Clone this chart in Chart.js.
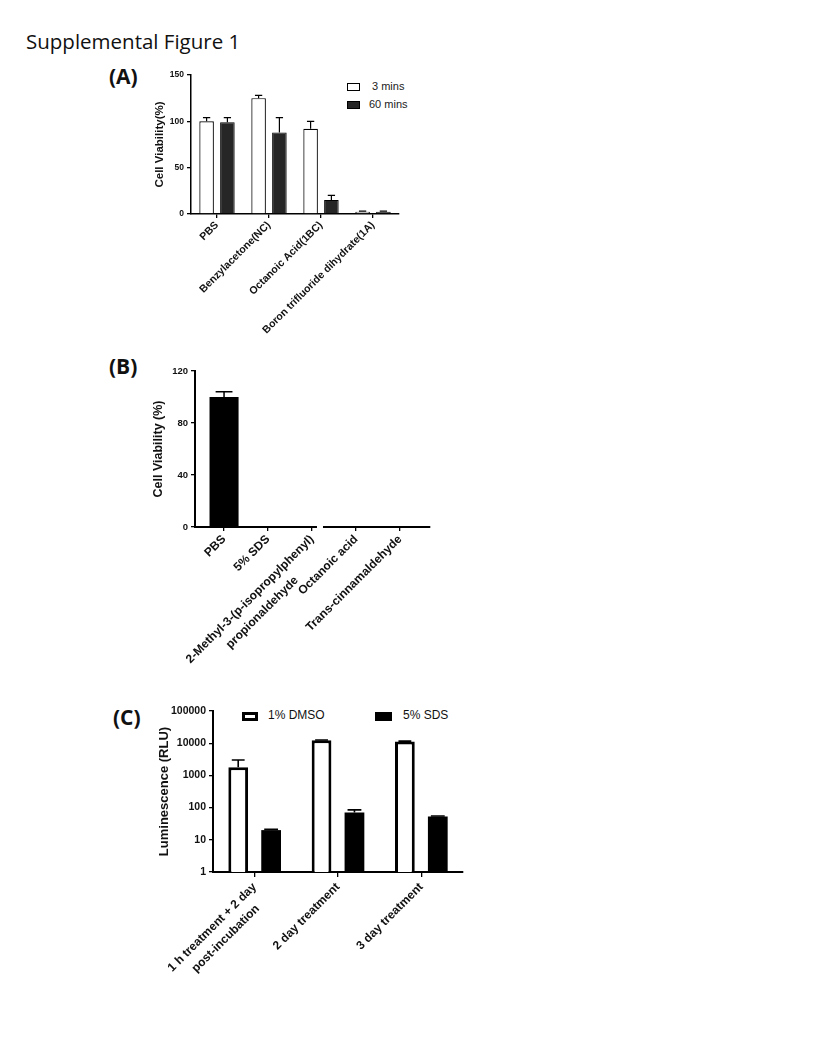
<!DOCTYPE html>
<html lang="en">
<head>
  <meta charset="UTF-8">
  <title>Supplemental Figure 1</title>
  <script src="https://cdn.jsdelivr.net/npm/chart.js"></script>
  <style>
    body { margin: 0; background: #fff; font-family: "Liberation Sans", Arial, sans-serif; }
    .page { position: relative; width: 816px; height: 1056px; overflow: hidden; }
    .abs { position: absolute; white-space: nowrap; }
    .title { left: 26px; top: 27px; font-family: "Open Sans", sans-serif; font-size: 20.5px; color: #111; }
    .panel { font-family: "Open Sans", sans-serif; font-weight: bold; font-size: 21px; color: #111; }
    .box { position: absolute; box-sizing: border-box; border: 1.2px solid #000; }
    .leg { font-size: 11px; color: #222; }
    .legC { font-size: 12px; color: #111; }
    canvas { position: absolute; }
  </style>
</head>
<body>
<div class="page">
  <div class="abs title">Supplemental Figure 1</div>
  <div class="abs panel" style="left:109px; top:62px">(A)</div>
  <div class="abs panel" style="left:109px; top:352px">(B)</div>
  <div class="abs panel" style="left:113px; top:703px">(C)</div>

  <!-- legend A -->
  <div class="box" style="left:347px; top:83px; width:13px; height:8px; background:#fff"></div>
  <div class="abs leg" style="left:372px; top:80px">3 mins</div>
  <div class="box" style="left:347px; top:101px; width:13px; height:8px; background:#262626"></div>
  <div class="abs leg" style="left:369px; top:98px">60 mins</div>

  <!-- legend C -->
  <div class="box" style="left:242px; top:712px; width:16px; height:9px; background:#fff; border-width:3px"></div>
  <div class="abs legC" style="left:268px; top:708px">1% DMSO</div>
  <div class="box" style="left:375px; top:712px; width:17px; height:9px; background:#000"></div>
  <div class="abs legC" style="left:403px; top:708px">5% SDS</div>

  <canvas id="chartA" width="310" height="290" style="left:110px; top:60px"></canvas>
  <canvas id="chartB" width="340" height="330" style="left:110px; top:355px"></canvas>
  <canvas id="chartC" width="370" height="305" style="left:110px; top:695px"></canvas>
</div>

<script>
// Panel A
const catsA = ["PBS", "Benzylacetone(NC)", "Octanoic Acid(1BC)", "Boron trifluoride dihydrate(1A)"];
const mins3 = [100, 125, 92, 2.5];
const mins3Err = [4, 3, 8, 0.5];
const mins60 = [99, 88, 15, 2.5];
const mins60Err = [5, 16, 5, 0.5];
const ticksA = [0, 50, 100, 150];

// Panel B (trailing spaces centre the short second line under the first)
const catsB = ["PBS", "5% SDS", ["2-Methyl-3-(p-isopropylphenyl)", "propionaldehyde" + " ".repeat(12)], "Octanoic acid", "Trans-cinnamaldehyde"];
const valsB = [100, 0, 0, 0, 0];
const errB = [4, 0, 0, 0, 0];
const ticksB = [0, 40, 80, 120];

// Panel C
const catsC = [["1 h treatment + 2 day", "post-incubation" + " ".repeat(4)], "2 day treatment", "3 day treatment"];
const dmso = [1800, 12300, 11300];
const dmsoErr = [1200, 300, 300];
const sds = [20, 70, 53];
const sdsErr = [1, 15, 2];
const ticksC = [1, 10, 100, 1000, 10000, 100000];

const FONT = "'Liberation Sans', Arial, sans-serif";

// upper error bars, drawn from the bar's value through the y scale
const errorBars = {
  id: "errorBars",
  afterDatasetsDraw(chart) {
    const ctx = chart.ctx;
    const y = chart.scales.y;
    chart.data.datasets.forEach((ds, i) => {
      if (!ds.errors) return;
      chart.getDatasetMeta(i).data.forEach((bar, j) => {
        const e = ds.errors[j];
        if (!e) return;
        const v = typeof ds.data[j] === "object" ? ds.data[j].y : ds.data[j];
        const top = y.getPixelForValue(v + e);
        const half = bar.width * ds.capRatio / 2;
        ctx.save();
        ctx.strokeStyle = "#000";
        ctx.lineWidth = ds.errWidth || 1.2;
        ctx.beginPath();
        ctx.moveTo(bar.x, bar.y);
        ctx.lineTo(bar.x, top);
        ctx.moveTo(bar.x - half, top);
        ctx.lineTo(bar.x + half, top);
        ctx.stroke();
        ctx.restore();
      });
    });
  }
};

function axisTicks(len) {
  return { drawOnChartArea: false, drawTicks: true, tickLength: len, color: "#000", lineWidth: 1.3, offset: false };
}

// Chart A
new Chart(document.getElementById("chartA"), {
  type: "bar",
  data: {
    labels: catsA,
    datasets: [
      { data: mins3, errors: mins3Err, capRatio: 0.5, backgroundColor: "#fff", borderColor: "#000", borderWidth: 1.2 },
      { data: mins60, errors: mins60Err, capRatio: 0.5, backgroundColor: "#262626", borderColor: "#000", borderWidth: 1 }
    ]
  },
  options: {
    responsive: false, animation: false,
    layout: { padding: { left: 43, top: 15, right: 21, bottom: 0 } },
    plugins: { legend: { display: false }, tooltip: { enabled: false } },
    datasets: { bar: { categoryPercentage: 0.8, barPercentage: 0.7 } },
    scales: {
      x: {
        grid: axisTicks(4),
        border: { color: "#000", width: 1.5 },
        ticks: { autoSkip: false, minRotation: 45, maxRotation: 45, padding: 1, color: "#111", font: { family: FONT, size: 10.5, weight: "bold" } },
        afterFit: s => { s.height = 136; }
      },
      y: {
        min: 0, max: 150,
        afterBuildTicks: s => { s.ticks = ticksA.map(v => ({ value: v })); },
        grid: axisTicks(4),
        border: { color: "#000", width: 1.5 },
        ticks: { padding: 3, color: "#111", font: { family: FONT, size: 8.5, weight: "bold" } },
        title: { display: true, text: "Cell Viability(%)", padding: 0, color: "#111", font: { family: FONT, size: 11.5, weight: "bold" } },
        afterFit: s => { s.width = 38; }
      }
    }
  },
  plugins: [errorBars]
});

// Chart B (broken x axis between the 3rd and 4th group)
const brokenAxis = {
  id: "brokenAxis",
  afterDraw(chart) {
    const xs = chart.scales.x;
    const gx = xs.getPixelForValue(2.18);
    chart.ctx.save();
    chart.ctx.fillStyle = "#fff";
    chart.ctx.fillRect(gx - 3, xs.top - 3, 6, 6);
    chart.ctx.restore();
  }
};

new Chart(document.getElementById("chartB"), {
  type: "bar",
  data: {
    datasets: [
      { data: valsB.map((v, i) => ({ x: i, y: v })), errors: errB, capRatio: 0.58, errWidth: 1.5,
        backgroundColor: "#000", borderColor: "#000", borderWidth: 0 }
    ]
  },
  options: {
    responsive: false, animation: false,
    layout: { padding: { left: 41, top: 16, right: 20, bottom: 0 } },
    plugins: { legend: { display: false }, tooltip: { enabled: false } },
    datasets: { bar: { categoryPercentage: 1, barPercentage: 0.66 } },
    scales: {
      x: {
        type: "linear", offset: false, min: -0.66, max: 4.68,
        afterBuildTicks: s => { s.ticks = catsB.map((c, i) => ({ value: i })); },
        grid: axisTicks(4),
        border: { color: "#000", width: 2 },
        ticks: { autoSkip: false, minRotation: 45, maxRotation: 45, padding: 0, color: "#111",
          callback: v => catsB[v], font: { family: FONT, size: 12, weight: "bold", lineHeight: 1.5 } },
        afterFit: s => { s.height = 158; }
      },
      y: {
        min: 0, max: 120,
        afterBuildTicks: s => { s.ticks = ticksB.map(v => ({ value: v })); },
        grid: axisTicks(4),
        border: { color: "#000", width: 2 },
        ticks: { padding: 3, color: "#111", font: { family: FONT, size: 9.5, weight: "bold" } },
        title: { display: true, text: "Cell Viability (%)", padding: 0, color: "#111", font: { family: FONT, size: 12.5, weight: "bold" } },
        afterFit: s => { s.width = 44; }
      }
    }
  },
  plugins: [errorBars, brokenAxis]
});

// Chart C
new Chart(document.getElementById("chartC"), {
  type: "bar",
  data: {
    labels: catsC,
    datasets: [
      { data: dmso, errors: dmsoErr, capRatio: 0.65, errWidth: 1.6, backgroundColor: "#fff", borderColor: "#000", borderWidth: 3 },
      { data: sds, errors: sdsErr, capRatio: 0.7, errWidth: 1.6, backgroundColor: "#000", borderColor: "#000", borderWidth: 0 }
    ]
  },
  options: {
    responsive: false, animation: false,
    layout: { padding: { left: 47, top: 16, right: 17, bottom: 0 } },
    plugins: { legend: { display: false }, tooltip: { enabled: false } },
    datasets: { bar: { categoryPercentage: 0.79, barPercentage: 0.6 } },
    scales: {
      x: {
        grid: axisTicks(5),
        border: { color: "#000", width: 2 },
        ticks: { autoSkip: false, minRotation: 45, maxRotation: 45, padding: 2, color: "#111", font: { family: FONT, size: 12, weight: "bold", lineHeight: 1.45 } },
        afterFit: s => { s.height = 128; }
      },
      y: {
        type: "logarithmic", min: 1, max: 100000,
        afterBuildTicks: s => { s.ticks = ticksC.map(v => ({ value: v })); },
        grid: axisTicks(4),
        border: { color: "#000", width: 2 },
        ticks: { padding: 3, color: "#111", callback: v => String(v), font: { family: FONT, size: 10.5, weight: "bold" } },
        title: { display: true, text: "Luminescence (RLU)", padding: 0, color: "#111", font: { family: FONT, size: 13, weight: "bold" } },
        afterFit: s => { s.width = 56; }
      }
    }
  },
  plugins: [errorBars]
});
</script>
</body>
</html>
